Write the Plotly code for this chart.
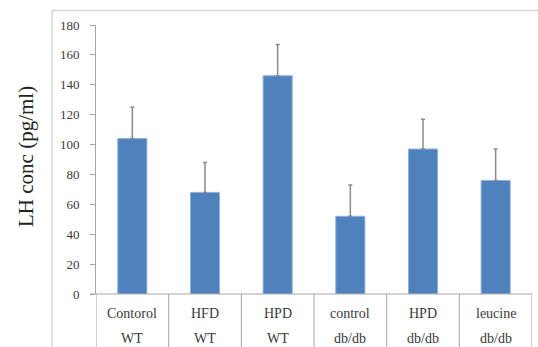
import plotly.graph_objects as go

groups = ["Contorol", "HFD", "HPD", "control", "HPD", "leucine"]
genotypes = ["WT", "WT", "WT", "db/db", "db/db", "db/db"]
lh_values = [104, 68, 146, 52, 97, 76]
lh_errors = [21, 20, 21, 21, 20, 21]
y_ticks = [0, 20, 40, 60, 80, 100, 120, 140, 160, 180]

W, H = 538, 347
L, R, T, B = 96, 6, 25, 53
pw, ph = W - L - R, H - T - B

def px_x(px):
    return (px - L) / pw

def px_y(py):
    return (H - B - py) / ph

FONT = "Liberation Serif"
xs = list(range(len(groups)))

fig = go.Figure()
fig.add_trace(go.Bar(
    x=xs, y=lh_values, width=0.4,
    marker=dict(color="#4F81BD", line=dict(color="#8FB0DA", width=1)),
    error_y=dict(type="data", array=lh_errors, arrayminus=[0]*len(lh_errors),
                 symmetric=False, color="#8a8a8a", thickness=1.5, width=2),
))

shapes = []
# outer frame (top and left)
shapes.append(dict(type="line", xref="paper", yref="paper",
                   x0=px_x(52), x1=px_x(538), y0=px_y(10.5), y1=px_y(10.5),
                   line=dict(color="#d4d4d4", width=1.5)))
shapes.append(dict(type="line", xref="paper", yref="paper",
                   x0=px_x(52), x1=px_x(52), y0=px_y(10.5), y1=px_y(347),
                   line=dict(color="#d4d4d4", width=1.5)))
# category dividers
for i in range(len(groups) + 1):
    shapes.append(dict(type="line", xref="x", yref="paper",
                       x0=i - 0.5, x1=i - 0.5, y0=0, y1=px_y(347),
                       line=dict(color="#a6a6a6", width=1)))
# x axis line
shapes.append(dict(type="line", xref="paper", yref="paper",
                   x0=px_x(90), x1=1, y0=0, y1=0,
                   line=dict(color="#a6a6a6", width=1)))

annotations = []
for i, (g, gt) in enumerate(zip(groups, genotypes)):
    annotations.append(dict(x=i, xref="x", y=px_y(313), yref="paper", text=g,
                            xanchor="center", yanchor="middle",
                            showarrow=False, font=dict(family=FONT, size=14, color="#3a3a3a")))
    annotations.append(dict(x=i, xref="x", y=px_y(338), yref="paper", text=gt,
                            xanchor="center", yanchor="middle",
                            showarrow=False, font=dict(family=FONT, size=14, color="#3a3a3a")))
# y axis title
annotations.append(dict(x=px_x(26), xref="paper", y=px_y(157), yref="paper",
                        xanchor="center", yanchor="middle",
                        text="LH conc (pg/ml)", textangle=-90, showarrow=False,
                        font=dict(family=FONT, size=21, color="#222222")))

fig.update_layout(
    width=W, height=H,
    margin=dict(l=L, r=R, t=T, b=B),
    paper_bgcolor="white", plot_bgcolor="white",
    showlegend=False,
    shapes=shapes, annotations=annotations,
    xaxis=dict(range=[-0.5, len(groups) - 0.5], showticklabels=False, showgrid=False,
               zeroline=False, showline=False, ticks=""),
    yaxis=dict(range=[0, 180], tickvals=y_ticks, showgrid=False, zeroline=False,
               showline=True, linecolor="#a6a6a6", linewidth=1,
               ticks="outside", ticklen=5, tickcolor="#a6a6a6",
               ticklabelstandoff=8,
               tickfont=dict(family=FONT, size=13, color="#3a3a3a")),
)

fig.write_html("out.html", config={"displayModeBar": False},
               post_script="document.body.style.margin='0';document.body.style.overflow='hidden';")
